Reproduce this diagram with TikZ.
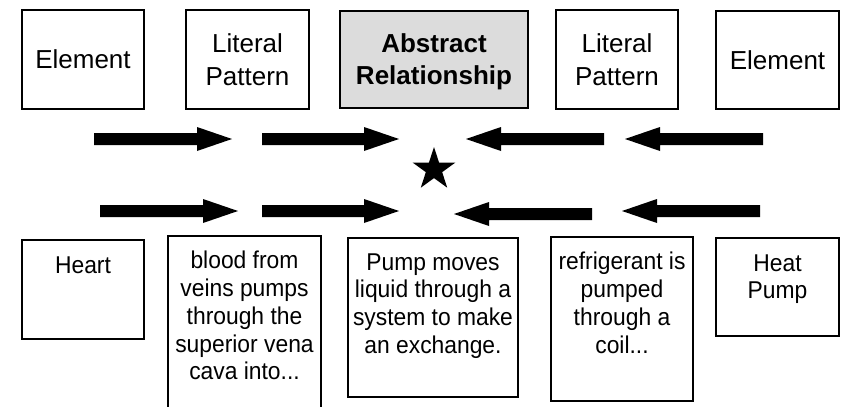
\documentclass[tikz,border=0pt]{standalone}
\usepackage{fontspec}
\setmainfont{Liberation Sans}
\newfontfamily\narrowfont[FakeStretch=0.94]{Liberation Sans}
\usetikzlibrary{shapes.geometric}
\definecolor{absgray}{HTML}{DCDCDC}
\tikzset{
  topbox/.style={draw, line width=1.8pt, inner sep=0pt, align=center,
    font=\fontsize{26}{32.5}\selectfont},
  botbox/.style={draw, line width=1.8pt, inner sep=0pt},
  bottext/.style={anchor=north, inner sep=0pt, align=center,
    font=\narrowfont\fontsize{24.3}{27.7}\selectfont},
}
\newcommand\rightblock[3]{\fill (#1,{#3-6}) -- ({#2-35},{#3-6}) -- ({#2-35},{#3-12}) -- (#2,#3) -- ({#2-35},{#3+12}) -- ({#2-35},{#3+6}) -- (#1,{#3+6}) -- cycle;}
\newcommand\leftblock[3]{\fill (#2,{#3-6}) -- ({#1+35},{#3-6}) -- ({#1+35},{#3-12}) -- (#1,#3) -- ({#1+35},{#3+12}) -- ({#1+35},{#3+6}) -- (#2,{#3+6}) -- cycle;}
\begin{document}
\begin{tikzpicture}[x=1pt,y=-1pt]
\useasboundingbox (0,0) rectangle (844,407);
\clip (0,0) rectangle (844,407);
% top boxes
\node[topbox, minimum width=122pt, minimum height=99pt] (el1) at (83,59.5) {Element};
\node[topbox, minimum width=123pt, minimum height=99pt] (lp1) at (247.5,59.5) {Literal\\Pattern};
\node[topbox, fill=absgray, minimum width=188pt, minimum height=97pt] (abs) at (434,59.5) {};
\node[inner sep=0pt, align=center, font=\bfseries\fontsize{26}{32.5}\selectfont] (tabs) at ([yshift=-2.5pt]abs.center) {Abstract\\Relationship};
\node[topbox, minimum width=122pt, minimum height=99pt] (lp2) at (617,59.5) {Literal\\Pattern};
\node[topbox, minimum width=123pt, minimum height=98pt] (el2) at (777.5,60) {Element};
% arrows
\rightblock{94}{232}{139}
\rightblock{262}{399}{139}
\leftblock{466}{604}{139}
\leftblock{625}{763}{139}
\rightblock{100}{238}{211}
\rightblock{262}{399}{211}
\leftblock{454}{592}{214}
\leftblock{622}{760}{211}
% star
\node[star, star points=5, star point ratio=2.618, fill=black, draw=none, minimum size=45pt, inner sep=0pt] (star) at (434,169.5) {};
% bottom boxes
\node[botbox, minimum width=122pt, minimum height=99pt] (heart) at (83,289.5) {};
\node[botbox, minimum width=153pt, minimum height=190pt] (blood) at (244.5,331) {};
\node[botbox, minimum width=170pt, minimum height=159pt] (pumpbox) at (433,317.5) {};
\node[botbox, minimum width=142pt, minimum height=164pt] (refr) at (622,319) {};
\node[botbox, minimum width=123pt, minimum height=98pt] (heatpump) at (777.5,287) {};
% bottom texts
\node[bottext] (theart) at ([yshift=-17pt]heart.north) {Heart};
\node[bottext] (tblood) at ([yshift=-16pt]blood.north) {blood from\\veins pumps\\through the\\superior vena\\cava into...};
\node[bottext] (tpump) at ([yshift=-16pt]pumpbox.north) {Pump moves\\liquid through a\\system to make\\an exchange.};
\node[bottext] (trefr) at ([yshift=-16pt]refr.north) {refrigerant is\\pumped\\through a\\coil...};
\node[bottext] (theat) at ([yshift=-17pt]heatpump.north) {Heat\\Pump};
\end{tikzpicture}
\end{document}
